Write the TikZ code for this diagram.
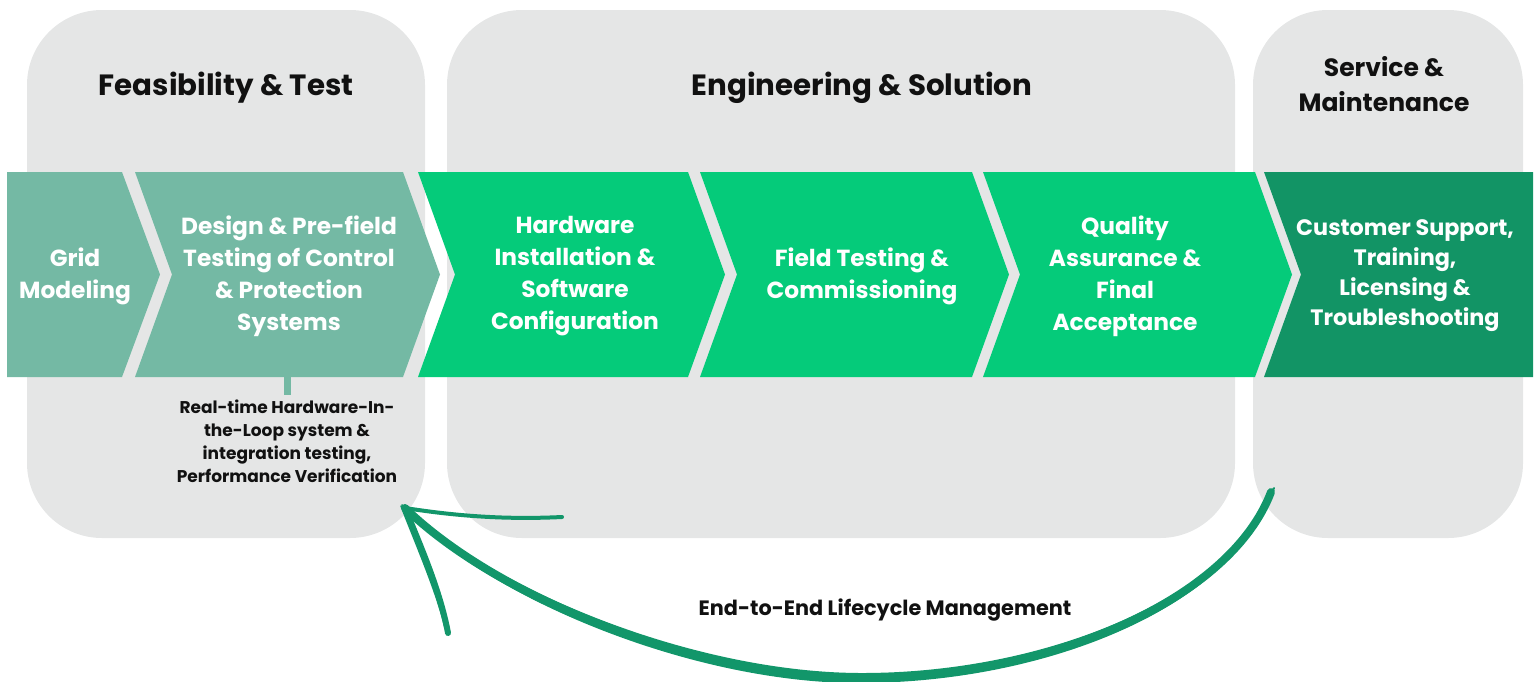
\documentclass[tikz,border=0pt]{standalone}
\usepackage{fontspec}
\setmainfont{Poppins}
\definecolor{panelgrey}{HTML}{E5E6E6}
\definecolor{teal}{HTML}{74B9A4}
\definecolor{bright}{HTML}{05CB7A}
\definecolor{darkg}{HTML}{129465}
\definecolor{arrowg}{HTML}{12966A}
\definecolor{inkblack}{HTML}{111111}
\tikzset{
  panel/.style={fill=panelgrey, rounded corners=75pt},
  chevtext/.style={text=white, font=\fontsize{23.3}{32}\selectfont\bfseries, align=center, inner sep=0pt},
  cstext/.style={text=white, font=\fontsize{22.3}{30}\selectfont\bfseries, align=center, inner sep=0pt},
  titletext/.style={text=inkblack, font=\fontsize{29.3}{35}\selectfont\bfseries, align=center, inner sep=0pt},
  titlesmall/.style={text=inkblack, font=\fontsize{25}{35}\selectfont\bfseries, align=center, inner sep=0pt},
  notetext/.style={text=inkblack, font=\fontsize{17}{23}\selectfont\bfseries, align=center, inner sep=0pt},
  lifetext/.style={text=inkblack, font=\fontsize{20.8}{24}\selectfont\bfseries, inner sep=0pt},
  brush/.style={draw=arrowg, line cap=round, line join=round},
}
\begin{document}
\begin{tikzpicture}[x=1pt,y=-1pt]
\useasboundingbox (0,0) rectangle (1538,681);
% panels
\fill[panel] (27,10) rectangle (425,538);
\fill[panel] (447,10) rectangle (1235,538);
\fill[panel] (1253,10) rectangle (1523,538);
% chevrons
\fill[teal] (7,172) -- (122,172) -- (160,274.5) -- (122,377) -- (7,377) -- cycle;
\fill[teal] (135,172) -- (403,172) -- (440,274.5) -- (403,377) -- (135,377) -- (172,274.5) -- cycle;
\fill[bright] (418,172) -- (688,172) -- (725,274.5) -- (688,377) -- (418,377) -- (455,274.5) -- cycle;
\fill[bright] (700,172) -- (972,172) -- (1009,274.5) -- (972,377) -- (700,377) -- (737,274.5) -- cycle;
\fill[bright] (983,172) -- (1255,172) -- (1292,274.5) -- (1255,377) -- (983,377) -- (1020,274.5) -- cycle;
\fill[darkg] (1264,172) -- (1533,172) -- (1533,377) -- (1264,377) -- (1301,274.5) -- cycle;
% titles
\node[titletext] (h1) at (226,87.5) {Feasibility \& Test};
\node[titletext] (h2) at (862,87.5) {Engineering \& Solution};
\node[titlesmall] (h3) at (1384,84) {Service \&\\Maintenance};
% chevron texts
\node[chevtext] (c1) at (75,276) {Grid\\Modeling};
\node[chevtext] (c2) at (289,276) {Design \& Pre-field\\Testing of Control\\\& Protection\\Systems};
\node[chevtext] (c3) at (575,276) {Hardware\\Installation \&\\Software\\Configuration};
\node[chevtext] (c4) at (862,276) {Field Testing \&\\Commissioning};
\node[chevtext] (c5) at (1125,276) {Quality\\Assurance \&\\Final\\Acceptance};
\node[cstext] (c6) at (1405,276) {Customer Support,\\Training,\\Licensing \&\\Troubleshooting};
% note under chevron 2
\coordinate (stubtop) at (287,377);
\coordinate (stubend) at (287,395);
\draw[teal, line width=7pt] (stubtop) -- (stubend);
\node[notetext] (note) at (287,441) {Real-time Hardware-In-\\the-Loop system \&\\integration testing,\\Performance Verification};
% lifecycle arrow
\coordinate (astart) at (1271,492);
\coordinate (abot) at (860,678);
\coordinate (atip) at (405,508);
\coordinate (lbarb) at (448,633);
\coordinate (rbarb) at (562,517);
\draw[brush, line width=8pt] (astart) .. controls (1230,600) and (1050,678) .. (abot) .. controls (700,678) and (500,600) .. (atip);
\draw[brush, line width=2pt] (1268,498) .. controls (1229,604) and (1050,682) .. (858,682) .. controls (700,682) and (500,604) .. (408,512);
\draw[brush, line width=2pt] (1274,488) .. controls (1232,596) and (1050,674) .. (862,674) .. controls (700,674) and (500,596) .. (402,505);
\draw[brush, line width=6pt] (atip) .. controls (420,545) and (440,590) .. (lbarb);
\draw[brush, line width=1.5pt] (401,506) .. controls (416,545) and (436,590) .. (445,628);
\draw[brush, line width=4pt] (atip) .. controls (450,515) and (500,520) .. (rbarb);
\node[lifetext] (life) at (885,610) {End-to-End Lifecycle Management};
\end{tikzpicture}
\end{document}
